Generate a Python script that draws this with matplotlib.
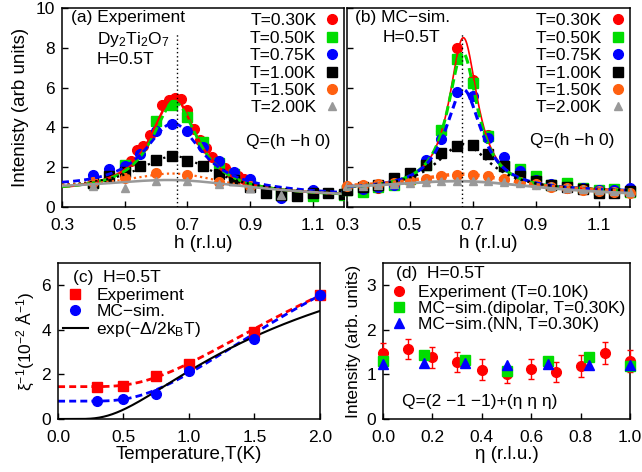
import matplotlib
matplotlib.use('Agg')
import matplotlib.pyplot as plt
import numpy as np

plt.rcParams['font.family'] = ['Liberation Sans', 'DejaVu Sans']
plt.rcParams['mathtext.fontset'] = 'custom'
plt.rcParams['mathtext.rm'] = 'Liberation Sans'
plt.rcParams['mathtext.it'] = 'Liberation Sans:italic'

# ---------------- data ----------------
t_labels = ['T=0.30K', 'T=0.50K', 'T=0.75K', 'T=1.00K', 'T=1.50K', 'T=2.00K']
t_colors = ['#ff0000', '#00dd00', '#0000ff', '#000000', '#ff6010', '#999999']
t_markers = ['o', 's', 'o', 's', 'o', '^']

# (a) experiment
h_exp = [
    [0.40, 0.45, 0.50, 0.52, 0.54, 0.56, 0.58, 0.60, 0.62, 0.64, 0.66, 0.68,
     0.70, 0.72, 0.74, 0.76, 0.78, 0.80, 0.82, 0.84, 0.86, 0.88, 0.90],
    [0.40, 0.50, 0.60, 0.65, 0.70, 0.75, 0.80, 0.85, 0.90, 1.00, 1.10, 1.20],
    [0.40, 0.45, 0.50, 0.55, 0.60, 0.65, 0.70, 0.75, 0.80, 0.85, 0.90, 1.00, 1.10],
    [0.40, 0.45, 0.50, 0.55, 0.60, 0.65, 0.70, 0.75, 0.80, 0.85, 0.90, 0.95,
     1.00, 1.05, 1.10, 1.15, 1.20],
    [0.40, 0.50, 0.60, 0.70, 0.80, 0.90],
    [0.40, 0.50, 0.60, 0.70, 0.80, 0.90, 1.00],
]
i_exp = [
    [1.15, 1.45, 1.85, 2.30, 2.85, 3.05, 3.60, 4.30, 5.15, 5.40, 5.50, 5.45,
     4.90, 3.90, 3.35, 2.95, 2.50, 2.20, 1.95, 1.70, 1.55, 1.40, 1.25],
    [1.20, 2.10, 4.30, 5.15, 4.50, 3.25, 2.20, 1.65, 1.15, 0.60, 0.55, 0.60],
    [1.60, 1.90, 2.05, 2.65, 3.80, 4.15, 3.80, 3.00, 2.30, 1.75, 1.40, 0.45, 0.85],
    [1.20, 1.55, 1.75, 2.05, 2.35, 2.55, 2.30, 2.05, 1.65, 1.35, 1.00, 0.70,
     0.60, 0.55, 0.70, 0.70, 0.65],
    [1.25, 1.45, 1.70, 1.60, 1.25, 1.05],
    [1.05, 0.95, 1.30, 1.30, 1.15, 0.95, 0.60],
]
# fit parameters (amplitude, centre, width, background at 0.3, background at 1.2)
fit_exp = [
    (4.85, 0.657, 0.090, 0.72, 0.53),
    (4.60, 0.660, 0.090, 0.75, 0.53),
    (3.40, 0.655, 0.110, 0.95, 0.60),
    (1.82, 0.660, 0.150, 0.85, 0.55),
    (0.92, 0.660, 0.200, 0.90, 0.55),
    (0.68, 0.660, 0.300, 0.79, 0.50),
]

# (b) MC simulation
h_mc = [0.30, 0.35, 0.40, 0.45, 0.50, 0.55, 0.60, 0.65, 0.70, 0.75, 0.80,
        0.85, 0.90, 0.95, 1.00, 1.05, 1.10, 1.15, 1.20]
i_mc = [
    [0.95, 0.90, 0.95, 1.15, 1.40, 2.10, 3.80, 8.00, 6.40, 3.60, 2.10,
     1.60, 1.30, 1.05, 0.95, 0.90, 0.75, 0.75, 0.80],
    [0.85, 0.75, 1.00, 1.10, 1.40, 2.10, 3.85, 7.45, 6.25, 3.55, 2.05,
     1.90, 1.55, 1.10, 1.20, 0.95, 0.85, 0.90, 0.75],
    [0.95, 0.90, 1.00, 1.10, 1.55, 2.35, 3.40, 5.80, 5.60, 3.45, 2.50,
     1.80, 1.35, 1.15, 1.00, 0.95, 0.85, 0.85, 0.95],
    [0.85, 1.00, 1.10, 1.45, 1.70, 2.10, 2.70, 3.05, 3.10, 2.65, 2.05,
     1.55, 1.30, 1.10, 1.00, 0.90, 0.70, 0.70, 0.80],
    [1.05, 1.10, 1.15, 1.20, 1.30, 1.40, 1.55, 1.60, 1.60, 1.55, 1.40,
     1.25, 1.15, 1.00, 0.95, 0.85, 0.80, 0.75, 0.70],
    [1.05, 1.05, 1.10, 1.15, 1.20, 1.25, 1.30, 1.30, 1.30, 1.30, 1.25,
     1.20, 1.10, 1.05, 0.95, 0.90, 0.85, 0.80, 0.75],
]
fit_mc = [
    (7.70, 0.670, 0.055, 0.85, 0.75),
    (6.95, 0.668, 0.058, 0.85, 0.75),
    (5.10, 0.670, 0.070, 0.85, 0.75),
    (2.35, 0.670, 0.105, 0.85, 0.75),
    (0.83, 0.670, 0.200, 0.90, 0.70),
    (0.60, 0.670, 0.300, 0.80, 0.55),
]
h_peak = 2.0 / 3.0

# (c) inverse correlation length
T_exp = [0.30, 0.50, 0.75, 1.00, 1.50, 2.00]
xi_exp = [1.43, 1.48, 1.92, 2.47, 3.92, 5.58]
T_mc = [0.30, 0.50, 0.75, 1.00, 1.50, 2.00]
xi_mc = [0.80, 0.90, 1.12, 2.15, 3.58, 5.58]
fit_xi_exp = (1.45, 16.0, 5.45)     # offset, amplitude, gap
fit_xi_mc = (0.80, 18.05, 5.34)
gap_amp, gap = 10.94, 3.254

# (d) intensity along (eta eta eta)
eta_exp = [0.0, 0.1, 0.2, 0.3, 0.4, 0.5, 0.6, 0.7, 0.8, 0.9, 1.0]
int_exp = [1.48, 1.57, 1.38, 1.28, 1.11, 1.00, 1.12, 1.05, 1.19, 1.48, 1.30]
err_exp = [0.22, 0.23, 0.23, 0.22, 0.23, 0.20, 0.23, 0.23, 0.24, 0.25, 0.24]
eta_mc = [0.0, 1/6, 1/3, 0.5, 2/3, 5/6, 1.0]
int_dip = [1.29, 1.44, 1.33, 1.07, 1.31, 1.40, 1.18]
int_nn = [1.24, 1.26, 1.26, 1.21, 1.24, 1.22, 1.22]


def lor_fit(h, amp, cen, wid, bg_l, bg_r):
    bg = bg_l + (bg_r - bg_l) * (h - 0.3) / 0.9
    return bg + amp / (1 + ((h - cen) / wid) ** 2)


FS = 12.5
fig = plt.figure(figsize=(6.42, 4.72), dpi=100)
ax_a = fig.add_axes([0.0966, 0.5614, 0.4393, 0.4216])
ax_b = fig.add_axes([0.5405, 0.5614, 0.4408, 0.4216])
ax_c = fig.add_axes([0.0903, 0.1123, 0.4081, 0.3305])
ax_d = fig.add_axes([0.5966, 0.1123, 0.3847, 0.3305])

for ax in (ax_a, ax_b, ax_c, ax_d):
    ax.tick_params(direction='in', length=4, width=1, labelsize=FS, pad=5)
    ax.tick_params(axis='x', pad=8)
    for s in ax.spines.values():
        s.set_linewidth(1.1)

hh = np.linspace(0.3, 1.2, 400)

# ---- (a) ----
styles_a = [dict(ls='-', lw=1.8), dict(ls=(0, (3, 1.5)), lw=2.0), dict(ls=(0, (2.5, 1.5)), lw=2.0),
            dict(ls=(0, (1, 1.5)), lw=1.6), dict(ls=(0, (1, 1.5)), lw=1.6), dict(ls='-', lw=1.8)]
for k in range(6):
    ax_a.plot(h_exp[k], i_exp[k], t_markers[k], color=t_colors[k], ms=7 if t_markers[k] != '^' else 6,
              ls='none', label=t_labels[k], zorder=3)
for k in range(6):
    ax_a.plot(hh, lor_fit(hh, *fit_exp[k]), color=t_colors[k], zorder=4, **styles_a[k])
ax_a.vlines(h_peak, 0, 8.8, colors='k', linestyles=(0, (1, 2)), lw=1, zorder=5)
ax_a.set_xlim(0.3, 1.2)
ax_a.set_ylim(0, 10)
ax_a.set_xticks([0.3, 0.5, 0.7, 0.9, 1.1])
ax_a.set_yticks([0, 2, 4, 6, 8, 10])
ax_a.set_xlabel('h (r.l.u)', fontsize=FS + 1, labelpad=1)
ax_a.set_ylabel('Intenisty (arb units)', fontsize=FS + 1, labelpad=5)
ax_a.text(0.032, 0.95, '(a) Experiment', transform=ax_a.transAxes, fontsize=FS, va='center')
ax_a.text(0.124, 0.84, 'Dy$_2$Ti$_2$O$_7$', transform=ax_a.transAxes, fontsize=FS, va='center')
ax_a.text(0.124, 0.74, 'H=0.5T', transform=ax_a.transAxes, fontsize=FS, va='center')
ax_a.text(0.95, 0.33, 'Q=(h −h 0)', transform=ax_a.transAxes, fontsize=FS, va='center', ha='right')
ax_a.legend(loc='upper right', markerfirst=False, frameon=False, fontsize=FS, numpoints=1,
            handlelength=0.8, handletextpad=0.5, labelspacing=0.13, borderaxespad=0.2, borderpad=0.1)

# ---- (b) ----
styles_b = [dict(ls='-', lw=1.2), dict(ls=(0, (3, 1.5)), lw=2.2), dict(ls=(0, (2.5, 1.5)), lw=2.2),
            dict(ls=(0, (1, 1.8)), lw=1.8), dict(ls=(0, (1, 1.2)), lw=2.5), dict(ls='-', lw=2.0)]
for k in range(6):
    ax_b.plot(h_mc, i_mc[k], t_markers[k], color=t_colors[k], ms=7 if t_markers[k] != '^' else 6,
              ls='none', label=t_labels[k], zorder=3, clip_on=False)
for k in range(6):
    ax_b.plot(hh, lor_fit(hh, *fit_mc[k]), color=t_colors[k], zorder=4, **styles_b[k])
ax_b.vlines(h_peak, 0, 8.8, colors='k', linestyles=(0, (1, 2)), lw=1, zorder=5)
ax_b.set_xlim(0.3, 1.2)
ax_b.set_ylim(0, 10)
ax_b.set_xticks([0.3, 0.5, 0.7, 0.9, 1.1])
ax_b.set_yticks([0, 2, 4, 6, 8, 10])
ax_b.set_yticklabels([])
ax_b.set_xlabel('h (r.l.u)', fontsize=FS + 1, labelpad=1)
ax_b.text(0.028, 0.95, '(b) MC−sim.', transform=ax_b.transAxes, fontsize=FS, va='center')
ax_b.text(0.127, 0.85, 'H=0.5T', transform=ax_b.transAxes, fontsize=FS, va='center')
ax_b.text(0.945, 0.335, 'Q=(h −h 0)', transform=ax_b.transAxes, fontsize=FS, va='center', ha='right')
ax_b.legend(loc='upper right', markerfirst=False, frameon=False, fontsize=FS, numpoints=1,
            handlelength=0.8, handletextpad=0.5, labelspacing=0.13, borderaxespad=0.2, borderpad=0.1)

# ---- (c) ----
tt = np.linspace(0.001, 2.0, 300)
c0, ca, cg = fit_xi_exp
ax_c.plot(tt, c0 + ca * np.exp(-cg / (2 * tt)), color='#ff0000', ls=(0, (2.5, 1.5)), lw=2.0)
c0, ca, cg = fit_xi_mc
ax_c.plot(tt, c0 + ca * np.exp(-cg / (2 * tt)), color='#0000ff', ls=(0, (2.5, 1.5)), lw=2.0)
ax_c.plot(T_exp, xi_exp, 's', color='#ff0000', ms=7.5, label='Experiment', clip_on=False, zorder=3)
ax_c.plot(T_mc, xi_mc, 'o', color='#0000ff', ms=7, label='MC−sim.', clip_on=False, zorder=3)
ax_c.plot(tt, gap_amp * np.exp(-gap / (2 * tt)), color='k', lw=1.5, label='exp(−Δ/2k$_\\mathrm{B}$T)')
ax_c.set_xlim(0, 2)
ax_c.set_ylim(0, 7)
ax_c.set_xticks([0.0, 0.5, 1.0, 1.5, 2.0])
ax_c.set_xticklabels(['0.0', '0.5', '1.0', '1.5', '2.0'])
ax_c.set_yticks([0, 2, 4, 6])
ax_c.set_xlabel('Temperature,T(K)', fontsize=FS + 1, labelpad=1)
ax_c.set_ylabel('ξ$^{-1}$(10$^{-2}$ Å$^{-1}$)', fontsize=FS, labelpad=4)
ax_c.text(0.057, 0.91, '(c)  H=0.5T', transform=ax_c.transAxes, fontsize=FS, va='center')
ax_c.legend(loc='upper left', bbox_to_anchor=(0.02, 0.84), frameon=False, fontsize=FS, numpoints=1,
            handlelength=1.4, handletextpad=0.5, labelspacing=0.05, borderaxespad=0, borderpad=0)

# ---- (d) ----
h_e = ax_d.errorbar(eta_exp, int_exp, yerr=err_exp, fmt='o', color='#ff0000', ms=7, capsize=2.5,
                    elinewidth=1, label='Experiment (T=0.10K)', clip_on=False, zorder=3)
h_d, = ax_d.plot(eta_mc, int_dip, 's', color='#00dd00', ms=7.5, label='MC−sim.(dipolar, T=0.30K)',
                 clip_on=False, zorder=4)
h_n, = ax_d.plot(eta_mc, int_nn, '^', color='#0000ff', ms=7.5, label='MC−sim.(NN, T=0.30K)',
                 clip_on=False, zorder=5)
ax_d.set_xlim(0, 1)
ax_d.set_ylim(0, 3.5)
ax_d.set_xticks([0.0, 0.2, 0.4, 0.6, 0.8, 1.0])
ax_d.set_xticklabels(['0.0', '0.2', '0.4', '0.6', '0.8', '1.0'])
ax_d.set_yticks([0, 1, 2, 3])
ax_d.set_xlabel('η (r.l.u.)', fontsize=FS + 1, labelpad=1)
ax_d.set_ylabel('Intensity (arb. units)', fontsize=FS, labelpad=4)
ax_d.text(0.053, 0.93, '(d)  H=0.5T', transform=ax_d.transAxes, fontsize=FS, va='center')
ax_d.text(0.077, 0.115, 'Q=(2 −1 −1)+(η η η)', transform=ax_d.transAxes, fontsize=FS, va='center')
ax_d.legend([h_e[0], h_d, h_n], ['Experiment (T=0.10K)', 'MC−sim.(dipolar, T=0.30K)', 'MC−sim.(NN, T=0.30K)'],
            loc='upper left', bbox_to_anchor=(0.03, 0.86), frameon=False, fontsize=FS, numpoints=1,
            handlelength=1.0, handletextpad=0.6, labelspacing=0.05, borderaxespad=0, borderpad=0)

fig.savefig('out.png', dpi=100)
